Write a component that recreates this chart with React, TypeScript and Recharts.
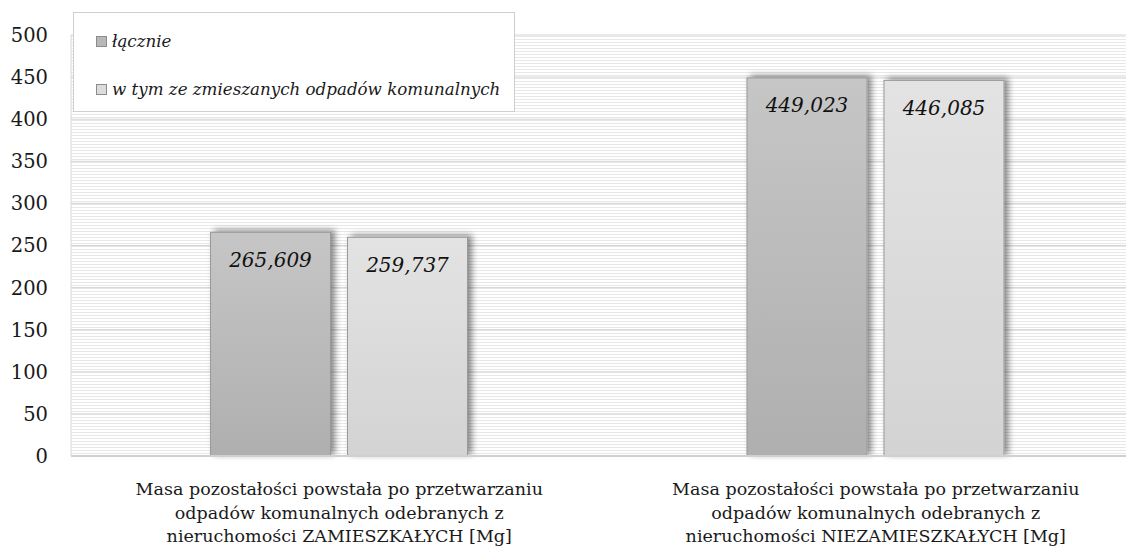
import React from 'react'
import { Bar, BarChart, CartesianGrid, LabelList, XAxis, YAxis } from 'recharts'

const categories = [
  ['Masa pozostałości powstała po przetwarzaniu', 'odpadów komunalnych odebranych z', 'nieruchomości ZAMIESZKAŁYCH [Mg]'],
  ['Masa pozostałości powstała po przetwarzaniu', 'odpadów komunalnych odebranych z', 'nieruchomości NIEZAMIESZKAŁYCH [Mg]'],
]
const lacznie = [265.609, 449.023]
const zmieszane = [259.737, 446.085]
const yTicks = [0, 50, 100, 150, 200, 250, 300, 350, 400, 450, 500]

const seriesNames = ['łącznie', 'w tym ze zmieszanych odpadów komunalnych']

const data = categories.map((c, i) => ({
  name: c.join('\n'),
  lacznie: lacznie[i],
  zmieszane: zmieszane[i],
}))

const font = '"DejaVu Serif", serif'

const fmt = (v: any) => Number(v).toFixed(3).replace('.', ',')

const ShadowBar = (props: any) => {
  const { x, y, width, height, fill } = props
  return (
    <rect x={x} y={y} width={width} height={height} fill={fill} stroke="#9a9a9a" strokeWidth={1} filter="url(#barShadow)" />
  )
}

const CatTick = (props: any) => {
  const { x, y, payload } = props
  const lines = String(payload.value).split('\n')
  return (
    <g transform={`translate(${x},${y})`}>
      {lines.map((l, i) => (
        <text key={i} x={0} y={31 + i * 23.5} textAnchor="middle" fontFamily={font} fontSize={17.5} fill="#1a1a1a">
          {l}
        </text>
      ))}
    </g>
  )
}

// legend drawn as a box over the plot, like in the original
const LegendBox = () => (
  <div
    style={{
      position: 'absolute',
      left: 73,
      top: 12,
      width: 442,
      height: 100,
      background: '#fff',
      border: '1px solid #cfcfcf',
      boxSizing: 'border-box',
      fontFamily: font,
      fontStyle: 'italic',
      fontSize: 16.7,
      color: '#1a1a1a',
      padding: '16px 0 0 22px',
    }}
  >
    {seriesNames.map((n, i) => (
      <div key={n} style={{ display: 'flex', alignItems: 'center', height: 24, marginBottom: i === 0 ? 24 : 0 }}>
        <span
          style={{
            display: 'inline-block',
            width: 9,
            height: 9,
            marginRight: 5,
            border: '1px solid #8c8c8c',
            background: i === 0 ? '#b8b8b8' : '#dcdcdc',
          }}
        />
        {n}
      </div>
    ))}
  </div>
)

export default function App() {
  return (
    <div style={{ position: 'relative', margin: '-8px 0 0 -8px', width: 1134, height: 553, overflow: 'hidden', background: '#fff' }}>
      <BarChart
        width={1150}
        height={553}
        data={data}
        margin={{ top: 35, right: 6, left: 0, bottom: 0 }}
        barCategoryGap="26%"
        barGap={17}
      >
        <defs>
          <pattern id="stripes" width="4" height="3" patternUnits="userSpaceOnUse">
            <rect width="4" height="3" fill="#ffffff" />
            <rect width="4" height="1" fill="#e8e8e8" />
          </pattern>
          <linearGradient id="g1" x1="0" y1="0" x2="0" y2="1">
            <stop offset="0%" stopColor="#c6c6c6" />
            <stop offset="100%" stopColor="#afafaf" />
          </linearGradient>
          <linearGradient id="g2" x1="0" y1="0" x2="0" y2="1">
            <stop offset="0%" stopColor="#e3e3e3" />
            <stop offset="100%" stopColor="#d3d3d3" />
          </linearGradient>
          <filter id="barShadow" x="-20%" y="-20%" width="140%" height="140%">
            <feDropShadow dx="4" dy="-2" stdDeviation="3" floodColor="#000" floodOpacity="0.45" />
          </filter>
        </defs>
        <CartesianGrid vertical={false} stroke="#d4d4d4" fill="url(#stripes)" />
        <XAxis
          dataKey="name"
          height={97}
          tick={<CatTick />}
          tickLine={false}
          axisLine={{ stroke: '#d0d0d0', strokeWidth: 2 }}
          interval={0}
        />
        <YAxis
          domain={[0, 500]}
          ticks={yTicks}
          width={71}
          tickSize={0}
          tickMargin={23}
          tickLine={false}
          axisLine={{ stroke: '#d8d8d8' }}
          tick={{ fontFamily: font, fontSize: 19.5, fill: '#1a1a1a' }}
          interval={0}
        />
        <Bar dataKey="lacznie" name={seriesNames[0]} fill="url(#g1)" shape={<ShadowBar />} isAnimationActive={false}>
          <LabelList
            dataKey="lacznie"
            position="insideTop"
            offset={20}
            formatter={fmt}
            style={{ fontFamily: font, fontStyle: 'italic', fontSize: 20, fill: '#111' }}
          />
        </Bar>
        <Bar dataKey="zmieszane" name={seriesNames[1]} fill="url(#g2)" shape={<ShadowBar />} isAnimationActive={false}>
          <LabelList
            dataKey="zmieszane"
            position="insideTop"
            offset={20}
            formatter={fmt}
            style={{ fontFamily: font, fontStyle: 'italic', fontSize: 20, fill: '#111' }}
          />
        </Bar>
      </BarChart>
      <LegendBox />
    </div>
  )
}
